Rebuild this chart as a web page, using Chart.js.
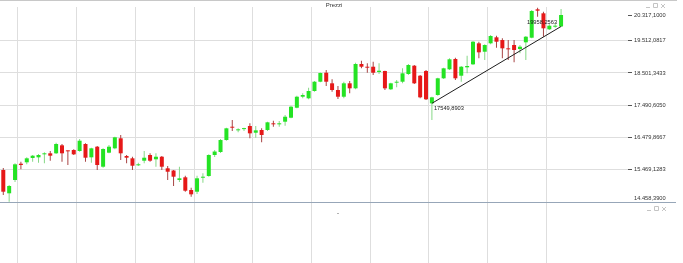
<!DOCTYPE html>
<html>
<head>
<meta charset="utf-8">
<script src="https://cdn.jsdelivr.net/npm/chart.js@4.4.1/dist/chart.umd.min.js"></script>
<style>
  html, body { margin: 0; padding: 0; background: #fff; }
  #wrap { position: relative; width: 683px; height: 263px; }
</style>
</head>
<body>
<div id="wrap"><canvas id="prezziChart"></canvas></div>
<script>
// =========================
// Data (daily candles)
// =========================

const opens = [
  15461, 14731, 15147, 15658, 15702, 15837, 15858, 15952, 15984, 15984,
  16234, 16065, 16087, 16056, 16275, 15858, 16191, 15564, 16003, 16140,
  16454, 15899, 15827, 15608, 15752, 15931, 15796, 15877, 15514, 15445,
  15147, 15232, 14834, 14781, 15219, 15273, 15931, 16025, 16400, 16817,
  16704, 16742, 16839, 16629, 16714, 16714, 16924, 16892, 16974, 17099,
  17412, 17757, 17707, 17936, 18227, 18509, 18177, 17967, 17757, 18177,
  18020, 18782, 18697, 18697, 18531, 18562, 17989, 18196, 18227, 18468,
  18729, 18415, 18562, 17549.8903, 17810, 18334, 18616, 18938, 18415, 18678,
  18772, 19430, 19167, 19430, 19618, 19533, 19273, 19377, 19251, 19461,
  19606, 20495, 20370, 19869, 19951, 19958.2563
];
const highs = [
  15523, 14991, 15670, 15721, 15858, 15931, 15962, 16015, 16056, 16316,
  16275, 16070, 16109, 16432, 16297, 16159, 16212, 16140, 16244, 16504,
  16557, 15931, 15877, 15689, 16056, 15984, 15984, 15899, 15586, 15461,
  15564, 15282, 14906, 15282, 15357, 15952, 16087, 16432, 16786, 17027,
  16767, 16786, 16924, 16839, 16767, 16974, 17005, 16996, 17184, 17475,
  17788, 17864, 18039, 18249, 18515, 18594, 18302, 18092, 18227, 18249,
  18822, 18885, 18803, 18854, 18803, 18572, 18196, 18280, 18647, 18781,
  18750, 18437, 18594, 17757, 18353, 18666, 18960, 18979, 18719, 19042,
  19502, 19480, 19399, 19690, 19668, 19587, 19533, 19533, 19377, 19659,
  20473, 20545, 20420, 20025, 20057, 20505
];
const lows = [
  14677, 14467, 15085, 15482, 15639, 15721, 15689, 15670, 15752, 15962,
  15721, 15617, 15931, 16034, 15721, 15689, 15461, 15533, 15984, 16109,
  15774, 15670, 15461, 15586, 15670, 15721, 15564, 15461, 15147, 14959,
  15085, 14781, 14624, 14709, 15063, 15251, 15868, 15993, 16379, 16682,
  16642, 16682, 16454, 16473, 16328, 16682, 16817, 16817, 16848, 17080,
  17393, 17707, 17676, 17914, 18208, 18092, 17914, 17685, 17707, 17864,
  17989, 18647, 18509, 18437, 18468, 17967, 17967, 18051, 18177, 18437,
  18155, 17707, 17654, 17027, 17788, 18311, 18594, 18280, 18227, 18490,
  18750, 18960, 18907, 19399, 19292, 18960, 18907, 18835, 19117, 18907,
  19587, 20263, 19637, 19847, 19920, 19940
];
const closes = [
  14781, 14959, 15639, 15617, 15827, 15909, 15931, 15984, 15909, 16275,
  15984, 16046, 15952, 16379, 15846, 16140, 15617, 16119, 16191, 16485,
  15984, 15846, 15595, 15639, 15846, 15752, 15877, 15564, 15407, 15251,
  15201, 14812, 14699, 15201, 15251, 15931, 16040, 16400, 16767, 16786,
  16723, 16767, 16610, 16704, 16557, 16955, 16892, 16924, 17130, 17444,
  17757, 17810, 17936, 18227, 18500, 18227, 17967, 17757, 18177, 18020,
  18782, 18697, 18666, 18509, 18572, 18020, 18177, 18227, 18490, 18750,
  18177, 17738, 17676, 17738, 18334, 18647, 18929, 18334, 18697, 18719,
  19480, 19148, 19377, 19659, 19480, 19273, 19242, 19220, 19324, 19637,
  20442, 20452, 19900, 19982, 19982, 20317.1
];

// trend line (candle index, value) + its labels
const trendX = [73, 95];
const trendY = [17549.8903, 19958.2563];
const trendLabels = ["17549,8903", "19958,2563"];

// axis ticks
const yTicks = [14458.39, 15469.1283, 16479.8667, 17490.605, 18501.3433, 19512.0817, 20317.1];
const yTickLabels = ["14.458,3900", "15.469,1283", "16.479,8667", "17.490,6050", "18.501,3433", "19.512,0817", "20.317,1000"];
const xGridAt = [2.5, 12.5, 22.5, 32.5, 42.5, 52.5, 62.5, 72.5, 82.5, 92.5];

const yMin = 14458.39;
const yMax = 20568;
const lastPrice = 20317.1;

// =========================
// Colors
// =========================

const UP = "#24e324";
const DOWN = "#e61818";
const UP_WICK = "#86d886";
const DOWN_WICK = "#a84444";
const FONT = "'Liberation Sans', Arial, sans-serif";

const bodyData = opens.map((o, i) => ({ x: i, y: [o, closes[i]] }));
const wickData = lows.map((l, i) => ({ x: i, y: [l, highs[i]] }));
const bodyColors = opens.map((o, i) => closes[i] >= o ? UP : DOWN);
const wickColors = opens.map((o, i) => closes[i] >= o ? UP_WICK : DOWN_WICK);
const trendData = trendX.map((x, i) => ({ x: x, y: trendY[i] }));

// =========================
// Frame, titles, labels
// =========================

const decor = {
  id: "decor",
  beforeDraw(chart) {
    const c = chart.ctx;
    c.save();
    c.fillStyle = "#fff";
    c.fillRect(0, 0, chart.width, chart.height);
    c.restore();
  },
  afterDraw(chart) {
    const c = chart.ctx;
    const { x, y } = chart.scales;
    const area = chart.chartArea;
    c.save();

    // top border
    c.strokeStyle = "#c8c8c8";
    c.lineWidth = 1;
    c.beginPath();
    c.moveTo(0, 0.5);
    c.lineTo(677, 0.5);
    c.stroke();

    // pane separator
    c.strokeStyle = "#97a6b8";
    c.beginPath();
    c.moveTo(0, Math.round(area.bottom) + 0.5);
    c.lineTo(676, Math.round(area.bottom) + 0.5);
    c.stroke();

    // pane titles
    c.fillStyle = "#333";
    c.font = "6px " + FONT;
    c.textAlign = "center";
    c.textBaseline = "middle";
    c.fillText("Prezzi", 334, 5);
    c.fillText("-", 338, 213);

    // lowest price label sits just above the separator
    c.textAlign = "left";
    c.font = "5.7px " + FONT;
    c.fillText(yTickLabels[0], area.right + 6, area.bottom - 4);

    // little window buttons
    c.strokeStyle = "#c4c4c4";
    [[646, 3], [647, 206]].forEach(([bx, by]) => {
      c.beginPath();
      c.moveTo(bx, by + 4.5); c.lineTo(bx + 4, by + 4.5);
      c.rect(bx + 7.5, by + 0.5, 4, 4);
      c.moveTo(bx + 15, by + 1); c.lineTo(bx + 19, by + 5);
      c.moveTo(bx + 19, by + 1); c.lineTo(bx + 15, by + 5);
      c.stroke();
    });

    // trend labels
    const x0 = x.getPixelForValue(trendX[0]);
    const y0 = y.getPixelForValue(trendY[0]);
    const x1 = x.getPixelForValue(trendX[1]);
    const y1 = y.getPixelForValue(trendY[1]);
    c.fillStyle = "#222";
    c.textBaseline = "alphabetic";
    c.textAlign = "left";
    c.fillText(trendLabels[0], x0 + 2, y0 + 7);
    c.textAlign = "right";
    c.fillText(trendLabels[1], x1 - 4, y1 - 2);

    c.restore();
  }
};

// =========================
// Create Chart
// =========================

const ctx = document.getElementById("prezziChart").getContext("2d");

const prezziChart = new Chart(ctx, {
  type: "bar",
  data: {
    datasets: [
      {
        type: "bar",
        label: "wick",
        data: wickData,
        backgroundColor: wickColors,
        barThickness: 1,
        grouped: false,
        inflateAmount: 0,
        order: 2
      },
      {
        type: "bar",
        label: "body",
        data: bodyData,
        backgroundColor: bodyColors,
        barThickness: 4,
        minBarLength: 1,
        grouped: false,
        inflateAmount: 0,
        order: 1
      },
      {
        type: "line",
        label: "trend",
        data: trendData,
        borderColor: "#1e1e1e",
        borderWidth: 1,
        pointRadius: 0,
        fill: false,
        order: 0
      }
    ]
  },
  options: {
    responsive: true,
    maintainAspectRatio: false,
    devicePixelRatio: 1,
    animation: false,
    layout: { padding: { top: 7, left: 0, right: 0, bottom: 0 } },
    plugins: {
      legend: { display: false },
      tooltip: { enabled: false }
    },
    scales: {
      x: {
        type: "linear",
        min: -0.56,
        max: 106.4,
        offset: false,
        afterBuildTicks: s => { s.ticks = xGridAt.map(v => ({ value: v })); },
        grid: { color: "#dedede", tickColor: "#dedede", tickLength: 61, offset: false },
        border: { display: false },
        ticks: { display: false }
      },
      y: {
        type: "linear",
        position: "right",
        min: yMin,
        max: yMax,
        afterBuildTicks: s => { s.ticks = yTicks.map(v => ({ value: v })); },
        afterFit: s => { s.width = 55; },
        grid: {
          color: c => (c.tick && c.tick.value === lastPrice) ? "rgba(0,0,0,0)" : "#dedede",
          tickColor: "#555",
          tickLength: 4
        },
        border: { display: false },
        ticks: {
          padding: 2,
          color: "#333",
          font: { family: FONT, size: 5.7 },
          callback: (v, i) => i === 0 ? "" : yTickLabels[i]
        }
      }
    }
  },
  plugins: [decor]
});
</script>
</body>
</html>
